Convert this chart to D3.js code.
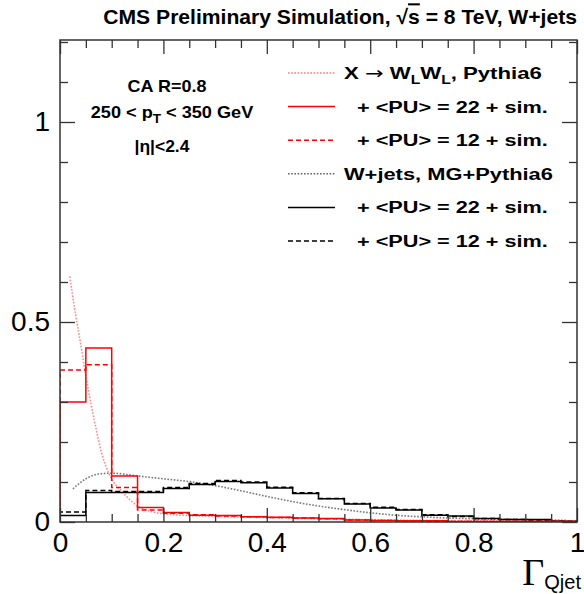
<!DOCTYPE html>
<html>
<head>
<meta charset="utf-8">
<script src="https://cdn.jsdelivr.net/npm/d3@7"></script>
<style>
  body { margin: 0; background: #fff; }
  text { font-family: "Liberation Sans", Arial, sans-serif; }
</style>
</head>
<body>
<div id="vis-container"></div>
<script>
const width = 584;
const height = 594;
const plot = { left: 60, right: 577, top: 40, bottom: 522 };

// bin low edges (bin width 0.05)
const binLow = [0, 0.05, 0.1, 0.15, 0.2, 0.25, 0.3, 0.35, 0.4, 0.45,
                0.5, 0.55, 0.6, 0.65, 0.7, 0.75, 0.8, 0.85, 0.9, 0.95];
const binWidth = 0.05;

// X -> WLWL + PU 22 + sim (red solid)
const sigPU22 = [0.300, 0.435, 0.115, 0.036, 0.024, 0.017, 0.016, 0.013, 0.012, 0.010,
                 0.009, 0.005, 0.004, 0.003, 0.003, 0.001, 0.001, 0.001, 0.001, 0.001];
// X -> WLWL + PU 12 + sim (red dashed)
const sigPU12 = [0.380, 0.393, 0.086, 0.030, 0.022, 0.018, 0.015, 0.013, 0.011, 0.010,
                 0.008, 0.005, 0.004, 0.003, 0.002, 0.001, 0.001, 0.001, 0.001, 0.001];
// W+jets + PU 22 + sim (black solid)
const wjPU22 = [0.016, 0.074, 0.074, 0.074, 0.084, 0.094, 0.101, 0.098, 0.085, 0.071,
                0.058, 0.045, 0.035, 0.030, 0.017, 0.015, 0.009, 0.006, 0.006, 0.002];
// W+jets + PU 12 + sim (black dashed)
const wjPU12 = [0.025, 0.079, 0.076, 0.076, 0.086, 0.096, 0.104, 0.100, 0.087, 0.073,
                0.059, 0.046, 0.037, 0.031, 0.018, 0.014, 0.009, 0.006, 0.005, 0.002];

// generator-level curves (dotted)
const sigGenX = [0.019, 0.03, 0.04, 0.05, 0.06, 0.07, 0.08, 0.09, 0.10, 0.12, 0.15, 0.18,
                 0.21, 0.25, 0.3, 0.4, 0.5, 0.6, 0.7, 0.8, 0.9, 0.98];
const sigGenY = [0.614, 0.52, 0.445, 0.365, 0.295, 0.232, 0.175, 0.135, 0.108, 0.076, 0.040, 0.025,
                 0.019, 0.016, 0.014, 0.011, 0.008, 0.006, 0.004, 0.003, 0.002, 0.001];
const wjGenX = [0.025, 0.05, 0.075, 0.1, 0.15, 0.2, 0.25, 0.3, 0.35, 0.4, 0.45, 0.5,
                0.55, 0.6, 0.65, 0.7, 0.75, 0.8, 0.85, 0.9, 0.95, 0.98];
const wjGenY = [0.083, 0.108, 0.120, 0.122, 0.115, 0.108, 0.101, 0.091, 0.078, 0.064, 0.051, 0.040,
                0.031, 0.023, 0.017, 0.013, 0.010, 0.008, 0.007, 0.006, 0.005, 0.004];

// axis ticks
const xMajor = [0, 0.2, 0.4, 0.6, 0.8, 1];
const xMinor = [0.05, 0.1, 0.15, 0.25, 0.3, 0.35, 0.45, 0.5, 0.55, 0.65, 0.7, 0.75, 0.85, 0.9, 0.95];
const yMajor = [0, 0.5, 1];
const yMinor = [0.1, 0.2, 0.3, 0.4, 0.6, 0.7, 0.8, 0.9, 1.1, 1.2];

const svg = d3.select("#vis-container")
  .append("svg")
  .attr("width", width)
  .attr("height", height);

const x = d3.scaleLinear().domain([0, 1]).range([plot.left, plot.right]);
const y = d3.scaleLinear().domain([0, 1.205]).range([plot.bottom, plot.top]);

svg.append("clipPath").attr("id", "clip")
  .append("rect")
  .attr("x", plot.left).attr("y", plot.top)
  .attr("width", plot.right - plot.left).attr("height", plot.bottom - plot.top);

const g = svg.append("g").attr("clip-path", "url(#clip)");

// step path for a histogram
function stepPoints(values) {
  const pts = [[0, 0]];
  values.forEach((v, i) => {
    pts.push([binLow[i], v]);
    pts.push([binLow[i] + binWidth, v]);
  });
  pts.push([1, 0]);
  return pts;
}
const stepLine = d3.line().x(d => x(d[0])).y(d => y(d[1]));
const smoothLine = d3.line().x(d => x(d[0])).y(d => y(d[1])).curve(d3.curveMonotoneX);

// stretch a text horizontally so it spans the width seen in the picture (ROOT text runs wide)
function fitWidth(t, anchorX, target) {
  const w = t.node().getBBox().width;
  const s = target / w;
  t.attr("transform", `translate(${anchorX},0) scale(${s},1) translate(${-anchorX},0)`);
}

// generator curves
g.append("path")
  .datum(wjGenX.map((v, i) => [v, wjGenY[i]]))
  .attr("d", smoothLine)
  .attr("fill", "none").attr("stroke", "#555").attr("stroke-width", 1.6)
  .attr("stroke-dasharray", "1.6,1.6").attr("opacity", 0.8);

g.append("path")
  .datum(sigGenX.map((v, i) => [v, sigGenY[i]]))
  .attr("d", smoothLine)
  .attr("fill", "none").attr("stroke", "#ff4040").attr("stroke-width", 1.6)
  .attr("stroke-dasharray", "1.6,1.6").attr("opacity", 0.6);

// histograms
const hists = [
  { vals: wjPU12, color: "#000", dash: "5,3" },
  { vals: wjPU22, color: "#000", dash: null },
  { vals: sigPU12, color: "#f00", dash: "5,3" },
  { vals: sigPU22, color: "#f00", dash: null }
];
hists.forEach(h => {
  g.append("path")
    .datum(stepPoints(h.vals))
    .attr("d", stepLine)
    .attr("fill", "none")
    .attr("stroke", h.color)
    .attr("stroke-width", 1.5)
    .attr("stroke-dasharray", h.dash);
});

// axes (ticks inside the frame)
const axisColor = "#333";
function styleAxis(sel) {
  sel.select(".domain").remove();
  sel.selectAll(".tick line").attr("stroke", axisColor).attr("stroke-width", 1.3);
}

svg.append("g").attr("transform", `translate(0,${plot.bottom})`)
  .call(d3.axisBottom(x).tickValues(xMajor).tickSize(-14).tickSizeOuter(0)
    .tickPadding(10).tickFormat(d => d === 0 ? "0" : d === 1 ? "1" : d3.format(".1f")(d)))
  .call(styleAxis)
  .call(s => s.selectAll("text").attr("font-size", "28px").attr("fill", "#000")
    .attr("font-family", "Liberation Sans, Arial, sans-serif"));
svg.append("g").attr("transform", `translate(0,${plot.bottom})`)
  .call(d3.axisBottom(x).tickValues(xMinor).tickSize(-8).tickFormat(""))
  .call(styleAxis);
svg.append("g").attr("transform", `translate(0,${plot.top})`)
  .call(d3.axisTop(x).tickValues(xMajor).tickSize(-14).tickFormat(""))
  .call(styleAxis);
svg.append("g").attr("transform", `translate(0,${plot.top})`)
  .call(d3.axisTop(x).tickValues(xMinor).tickSize(-8).tickFormat(""))
  .call(styleAxis);

svg.append("g").attr("transform", `translate(${plot.left},0)`)
  .call(d3.axisLeft(y).tickValues(yMajor).tickSize(-15).tickPadding(10)
    .tickFormat(d => d === 0 ? "0" : d === 1 ? "1" : "0.5"))
  .call(styleAxis)
  .call(s => s.selectAll("text").attr("font-size", "28px").attr("fill", "#000")
    .attr("font-family", "Liberation Sans, Arial, sans-serif"));
svg.append("g").attr("transform", `translate(${plot.left},0)`)
  .call(d3.axisLeft(y).tickValues(yMinor).tickSize(-8).tickFormat(""))
  .call(styleAxis);
svg.append("g").attr("transform", `translate(${plot.right},0)`)
  .call(d3.axisRight(y).tickValues(yMajor).tickSize(-15).tickFormat(""))
  .call(styleAxis);
svg.append("g").attr("transform", `translate(${plot.right},0)`)
  .call(d3.axisRight(y).tickValues(yMinor).tickSize(-8).tickFormat(""))
  .call(styleAxis);

// frame
svg.append("rect")
  .attr("x", plot.left).attr("y", plot.top)
  .attr("width", plot.right - plot.left).attr("height", plot.bottom - plot.top)
  .attr("fill", "none").attr("stroke", axisColor).attr("stroke-width", 1.5);

// x axis title
const xt = svg.append("text").attr("x", 581).attr("y", 585).attr("text-anchor", "end");
xt.append("tspan").attr("font-family", "Liberation Serif, Times New Roman, serif")
  .attr("font-size", "38px").text("Γ");
xt.append("tspan").attr("font-size", "20px").attr("dy", 4).text("Qjet");

// title
const title = svg.append("text").attr("x", plot.right).attr("y", 24)
  .attr("text-anchor", "end").attr("font-weight", "bold").attr("font-size", "20.5px");
title.append("tspan").text("CMS Preliminary Simulation, ");
title.append("tspan").text("√");
title.append("tspan").style("text-decoration", "overline").text("s");
title.append("tspan").text(" = 8 TeV, W+jets");
fitWidth(title, plot.right, 474);

// info block
const info = svg.append("g").attr("font-weight", "bold").attr("font-size", "16px")
  .attr("text-anchor", "middle");
const ca = info.append("text").attr("x", 167).attr("y", 92).text("CA R=0.8");
fitWidth(ca, 167, 79);
const pt = info.append("text").attr("x", 172).attr("y", 118);
pt.append("tspan").text("250 < p");
pt.append("tspan").attr("font-size", "12px").attr("dy", 5).text("T");
pt.append("tspan").attr("dy", -5).text(" < 350 GeV");
fitWidth(pt, 172, 163);
const eta = info.append("text").attr("x", 162).attr("y", 152).text("|η|<2.4");
fitWidth(eta, 162, 55);

// legend
const legendItems = [
  { color: "#ff4040", dash: "1.6,1.6", width: 1.6, opacity: 0.7, label: "sig", x0: 344, w: 198 },
  { color: "#f00", dash: null, width: 1.5, opacity: 1, label: "+ <PU> = 22 + sim.", x0: 357, w: 191 },
  { color: "#f00", dash: "5,3", width: 1.5, opacity: 1, label: "+ <PU> = 12 + sim.", x0: 357, w: 191 },
  { color: "#555", dash: "1.6,1.6", width: 1.6, opacity: 0.9, label: "W+jets, MG+Pythia6", x0: 344, w: 209 },
  { color: "#000", dash: null, width: 1.5, opacity: 1, label: "+ <PU> = 22 + sim.", x0: 357, w: 191 },
  { color: "#000", dash: "5,3", width: 1.5, opacity: 1, label: "+ <PU> = 12 + sim.", x0: 357, w: 191 }
];
const legend = svg.append("g").attr("font-weight", "bold").attr("font-size", "17px");
legendItems.forEach((d, i) => {
  const yy = 73 + i * 33.6;
  legend.append("line")
    .attr("x1", 288).attr("x2", 335).attr("y1", yy).attr("y2", yy)
    .attr("stroke", d.color).attr("stroke-width", d.width)
    .attr("stroke-dasharray", d.dash).attr("opacity", d.opacity);
  const t = legend.append("text").attr("x", d.x0).attr("y", yy + 6);
  if (d.label === "sig") {
    t.append("tspan").text("X ");
    t.append("tspan").attr("font-family", "DejaVu Sans").attr("font-weight", "normal").text("→");
    t.append("tspan").text(" W");
    t.append("tspan").attr("font-size", "12px").attr("dy", 5).text("L");
    t.append("tspan").attr("dy", -5).text("W");
    t.append("tspan").attr("font-size", "12px").attr("dy", 5).text("L");
    t.append("tspan").attr("dy", -5).text(", Pythia6");
  } else {
    t.text(d.label);
  }
  fitWidth(t, d.x0, d.w);
});
</script>
</body>
</html>
